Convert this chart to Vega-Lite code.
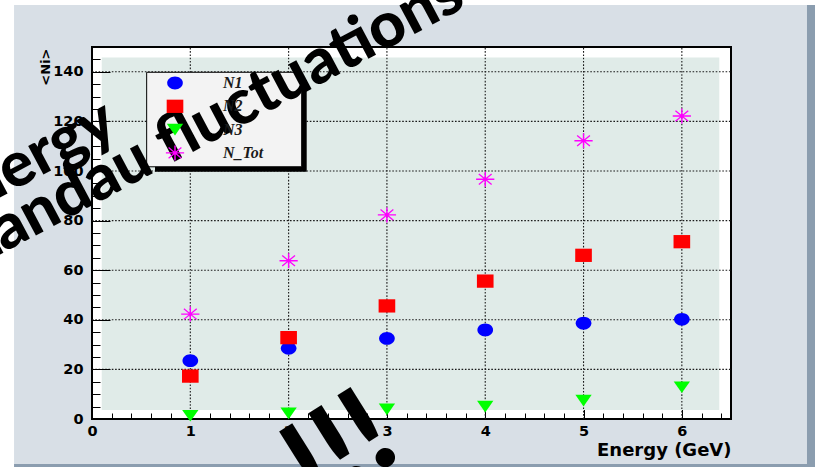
{
  "$schema": "https://vega.github.io/schema/vega-lite/v6.json",
  "width": 639,
  "height": 372,
  "autosize": {"type": "none"},
  "padding": {"left": 92, "top": 47, "right": 84, "bottom": 48},
  "background": "#d8dfe6",
  "config": {
    "view": {"fill": "#ffffff", "stroke": "#000000", "strokeWidth": 2},
    "axis": {
      "grid": false,
      "domain": false,
      "labelFont": "DejaVu Sans",
      "labelFontWeight": "bold",
      "labelFontSize": 14.5,
      "labelColor": "#000000",
      "titleFont": "DejaVu Sans",
      "titleFontWeight": "bold",
      "titleColor": "#000000",
      "tickColor": "#000000",
      "tickWidth": 1
    },
    "legend": {
      "orient": "none",
      "legendX": 75,
      "legendY": 28,
      "padding": 0,
      "symbolSize": 256,
      "symbolStrokeWidth": 0,
      "labelOffset": 40,
      "rowPadding": 7.3,
      "labelFont": "Liberation Serif",
      "labelFontStyle": "italic",
      "labelFontWeight": "bold",
      "labelFontSize": 16,
      "labelColor": "#1a1a1a",
      "labelBaseline": "middle"
    }
  },
  "datasets": {
    "readings": [
      {"e": 1, "series": "N1", "n": 23.5},
      {"e": 2, "series": "N1", "n": 28.5},
      {"e": 3, "series": "N1", "n": 32.5},
      {"e": 4, "series": "N1", "n": 35.9},
      {"e": 5, "series": "N1", "n": 38.6},
      {"e": 6, "series": "N1", "n": 40.2},
      {"e": 1, "series": "N2", "n": 17.3},
      {"e": 2, "series": "N2", "n": 32.8},
      {"e": 3, "series": "N2", "n": 45.6},
      {"e": 4, "series": "N2", "n": 55.6},
      {"e": 5, "series": "N2", "n": 66.0},
      {"e": 6, "series": "N2", "n": 71.5},
      {"e": 1, "series": "N3", "n": 1.3},
      {"e": 2, "series": "N3", "n": 2.3},
      {"e": 3, "series": "N3", "n": 3.9},
      {"e": 4, "series": "N3", "n": 5.0},
      {"e": 5, "series": "N3", "n": 7.4},
      {"e": 6, "series": "N3", "n": 12.8},
      {"e": 1, "series": "N_Tot", "n": 42.3},
      {"e": 2, "series": "N_Tot", "n": 63.8},
      {"e": 3, "series": "N_Tot", "n": 82.3},
      {"e": 4, "series": "N_Tot", "n": 96.7},
      {"e": 5, "series": "N_Tot", "n": 112.2},
      {"e": 6, "series": "N_Tot", "n": 122.2}
    ],
    "gridlines": [
      {"e": 1, "e2": 1, "n": 0, "n2": 150},
      {"e": 2, "e2": 2, "n": 0, "n2": 150},
      {"e": 3, "e2": 3, "n": 0, "n2": 150},
      {"e": 4, "e2": 4, "n": 0, "n2": 150},
      {"e": 5, "e2": 5, "n": 0, "n2": 150},
      {"e": 6, "e2": 6, "n": 0, "n2": 150},
      {"e": 0, "e2": 6.5, "n": 20, "n2": 20},
      {"e": 0, "e2": 6.5, "n": 40, "n2": 40},
      {"e": 0, "e2": 6.5, "n": 60, "n2": 60},
      {"e": 0, "e2": 6.5, "n": 80, "n2": 80},
      {"e": 0, "e2": 6.5, "n": 100, "n2": 100},
      {"e": 0, "e2": 6.5, "n": 120, "n2": 120},
      {"e": 0, "e2": 6.5, "n": 140, "n2": 140}
    ],
    "panels": [
      {"part": "edge", "e": 7.273, "e2": 7.6, "n": -25, "n2": 175},
      {"part": "edge", "e": -1, "e2": 7.6, "n": -18.15, "n2": -25},
      {"part": "strip", "e": -1, "e2": 7.6, "n": 166.9, "n2": 175},
      {"part": "strip", "e": -1, "e2": -0.793, "n": -25, "n2": 175},
      {"part": "frame", "e": 0.099, "e2": 6.381, "n": 3.6, "n2": 145.8},
      {"part": "shadow", "e": 0.641, "e2": 2.184, "n": 99.7, "n2": 136.7},
      {"part": "box", "e": 0.556, "e2": 2.133, "n": 101.7, "n2": 139.8}
    ],
    "notes": [
      {"part": "caption", "e": -1.47, "n": 78.0, "text": "Energy"},
      {"part": "caption", "e": -1.187, "n": 61.0, "text": "Landau fluctuations"},
      {"part": "bang", "e": 2.736, "n": -25.8, "text": "!!!"}
    ]
  },
  "encoding": {
    "x": {
      "field": "e",
      "type": "quantitative",
      "scale": {"domain": [0, 6.5], "nice": false, "zero": false},
      "axis": {
        "values": [0, 0.2, 0.4, 0.6, 0.8, 1, 1.2, 1.4, 1.6, 1.8, 2, 2.2, 2.4, 2.6, 2.8, 3, 3.2, 3.4, 3.6, 3.8, 4, 4.2, 4.4, 4.6, 4.8, 5, 5.2, 5.4, 5.6, 5.8, 6, 6.2, 6.4],
        "labelExpr": "datum.value % 1 === 0 ? '' + datum.value : ''",
        "tickSize": {"condition": {"test": "datum.value % 1 === 0", "value": -12}, "value": -6},
        "labelPadding": 17,
        "labelOverlap": false,
        "labelFlush": false,
        "title": "Energy (GeV)",
        "titleFontSize": 18,
        "titleAlign": "right",
        "titleBaseline": "alphabetic",
        "titleAnchor": "end",
        "titleX": 639,
        "titleY": 36,
        "zindex": 0
      }
    },
    "y": {
      "field": "n",
      "type": "quantitative",
      "scale": {"domain": [0, 150], "nice": false, "zero": true},
      "axis": {
        "values": [0, 5, 10, 15, 20, 25, 30, 35, 40, 45, 50, 55, 60, 65, 70, 75, 80, 85, 90, 95, 100, 105, 110, 115, 120, 125, 130, 135, 140, 145],
        "labelExpr": "datum.value % 20 === 0 ? '' + datum.value : ''",
        "tickSize": {"condition": {"test": "datum.value % 20 === 0", "value": -18}, "value": -8},
        "labelPadding": 27,
        "labelOverlap": false,
        "labelFlush": false,
        "title": "<Ni>",
        "titleFontSize": 13,
        "titleAngle": -90,
        "titleAlign": "right",
        "titleBaseline": "middle",
        "titleX": -47,
        "titleY": 1,
        "zindex": 1
      }
    }
  },
  "layer": [
    {
      "data": {"name": "panels"},
      "transform": [{"filter": "datum.part === 'edge'"}],
      "mark": {"type": "rect", "color": "#8b9daf"},
      "encoding": {"x2": {"field": "e2"}, "y2": {"field": "n2"}}
    },
    {
      "data": {"name": "panels"},
      "transform": [{"filter": "datum.part === 'strip'"}],
      "mark": {"type": "rect", "color": "#ffffff"},
      "encoding": {"x2": {"field": "e2"}, "y2": {"field": "n2"}}
    },
    {
      "data": {"name": "panels"},
      "transform": [{"filter": "datum.part === 'frame'"}],
      "mark": {"type": "rect", "color": "#e0ebe8"},
      "encoding": {"x2": {"field": "e2"}, "y2": {"field": "n2"}}
    },
    {
      "data": {"name": "gridlines"},
      "mark": {"type": "rule", "color": "#1a1a1a", "strokeWidth": 1.1, "strokeDash": [1.6, 1.7]},
      "encoding": {"x2": {"field": "e2"}, "y2": {"field": "n2"}}
    },
    {
      "data": {"name": "panels"},
      "transform": [{"filter": "datum.part === 'shadow'"}],
      "mark": {"type": "rect", "color": "#000000"},
      "encoding": {"x2": {"field": "e2"}, "y2": {"field": "n2"}}
    },
    {
      "data": {"name": "panels"},
      "transform": [{"filter": "datum.part === 'box'"}],
      "mark": {"type": "rect", "fill": "#f3f3f3", "stroke": "#000000", "strokeWidth": 1},
      "encoding": {"x2": {"field": "e2"}, "y2": {"field": "n2"}}
    },
    {
      "data": {"name": "readings"},
      "mark": {"type": "point", "filled": true, "size": 256, "opacity": 1, "strokeWidth": 0},
      "encoding": {
        "color": {
          "field": "series",
          "type": "nominal",
          "scale": {"domain": ["N1", "N2", "N3", "N_Tot"], "range": ["#0000ff", "#ff0000", "#00ff00", "#ff00ff"]},
          "legend": {"title": null}
        },
        "shape": {
          "field": "series",
          "type": "nominal",
          "scale": {
            "domain": ["N1", "N2", "N3", "N_Tot"],
            "range": [
              "M-0.98,0A0.98,0.8,0,1,1,0.98,0A0.98,0.8,0,1,1,-0.98,0Z",
              "M-1.04,-0.83L1.04,-0.83L1.04,0.83L-1.04,0.83Z",
              "M-1.02,-0.73L1.02,-0.73L0,0.73Z",
              "M-1.14,-0.09L1.14,-0.09L1.14,0.09L-1.14,0.09Z M-0.09,-0.94L0.09,-0.94L0.09,0.94L-0.09,0.94Z M-0.851,-0.598L-0.749,-0.722L0.851,0.598L0.749,0.722Z M-0.749,0.722L-0.851,0.598L0.749,-0.722L0.851,-0.598Z M-0.22,0A0.22,0.22,0,1,1,0.22,0A0.22,0.22,0,1,1,-0.22,0Z"
            ]
          },
          "legend": {"title": null}
        }
      }
    },
    {
      "data": {"name": "notes"},
      "transform": [{"filter": "datum.part === 'caption'"}],
      "mark": {"type": "text", "font": "Lato", "fontWeight": 900, "fontSize": 63, "angle": -28, "align": "left", "baseline": "alphabetic", "color": "#000000"},
      "encoding": {"text": {"field": "text"}}
    },
    {
      "data": {"name": "notes"},
      "transform": [{"filter": "datum.part === 'bang'"}],
      "mark": {"type": "text", "font": "Lato", "fontWeight": 900, "fontSize": 120, "angle": -32, "align": "center", "baseline": "alphabetic", "color": "#000000"},
      "encoding": {"text": {"field": "text"}}
    }
  ]
}
